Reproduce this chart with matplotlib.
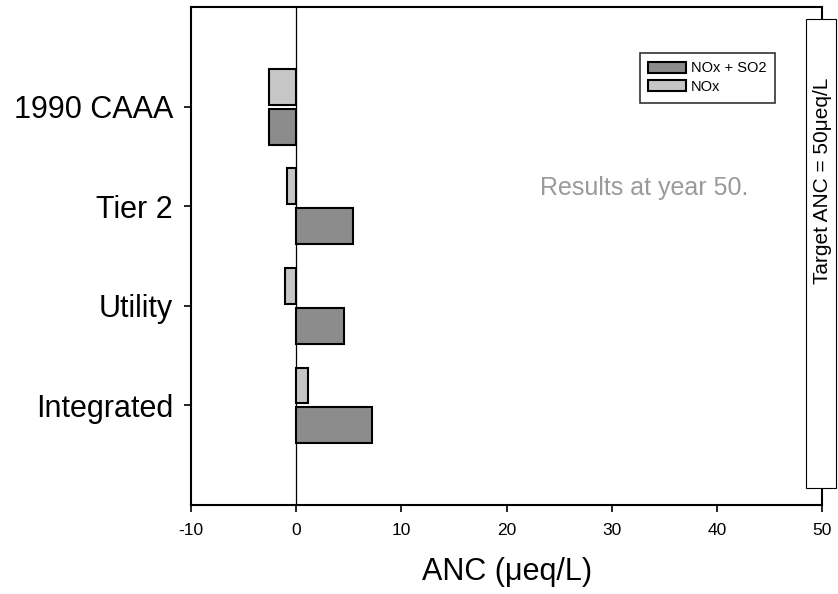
import matplotlib
matplotlib.use("Agg")
import matplotlib.pyplot as plt
from matplotlib.patches import Rectangle
import numpy as np

plt.rcParams['font.family'] = ['Liberation Sans', 'DejaVu Sans']

# data
scenarios = ["1990 CAAA", "Tier 2", "Utility", "Integrated"]
nox_so2 = [-2.6, 5.4, 4.5, 7.2]
nox = [-2.6, -0.9, -1.1, 1.1]
xticks = [-10, 0, 10, 20, 30, 40, 50]
target_anc = 50

ypos = np.arange(len(scenarios), 0, -1)  # 4,3,2,1 top to bottom

fig = plt.figure(figsize=(8.38, 5.94), dpi=100)
ax = fig.add_axes([0.228, 0.150, 0.753, 0.838])

ax.barh(ypos - 0.2, nox_so2, height=0.36, color='#8c8c8c', edgecolor='black',
        linewidth=1.5, label='NOx + SO2', zorder=3)
ax.barh(ypos + 0.2, nox, height=0.36, color='#c6c6c6', edgecolor='black',
        linewidth=1.5, label='NOx', zorder=3)

ax.axvline(0, color='black', linewidth=0.9, zorder=2)

ax.set_xlim(-10, 50)
ax.set_ylim(0, 5)
ax.set_xticks(xticks)
ax.set_xticklabels([str(t) for t in xticks], fontsize=12.5)
ax.set_yticks(ypos)
ax.set_yticklabels(scenarios, fontsize=22)
ax.tick_params(axis='both', direction='out', length=5, width=1.2)
ax.tick_params(axis='x', pad=8)
ax.tick_params(axis='y', pad=8)
for s in ax.spines.values():
    s.set_linewidth(1.5)

ax.set_xlabel("ANC (\u03bceq/L)", fontsize=22, labelpad=14)

leg = ax.legend(loc='upper right', bbox_to_anchor=(0.937, 0.923), fontsize=10.5,
                frameon=True, fancybox=False, edgecolor='black',
                handlelength=2.6, handleheight=0.8, labelspacing=0.3,
                borderpad=0.6, handletextpad=0.3)
leg.get_frame().set_linewidth(1.2)

ax.text(0.553, 0.637, "Results at year 50.", transform=ax.transAxes,
        fontsize=18, color='#9a9a9a', ha='left', va='center')

# target ANC box on the right edge
box = Rectangle((48.5, 0.17), 2.8, 4.71, facecolor='white', edgecolor='black',
                linewidth=0.8, clip_on=False, zorder=5)
ax.add_patch(box)
ax.text(target_anc, 3.26, "Target ANC = %d\u03bceq/L" % target_anc, rotation=90,
        fontsize=15, ha='center', va='center', zorder=6, clip_on=False)

fig.savefig("out.png", dpi=100)
